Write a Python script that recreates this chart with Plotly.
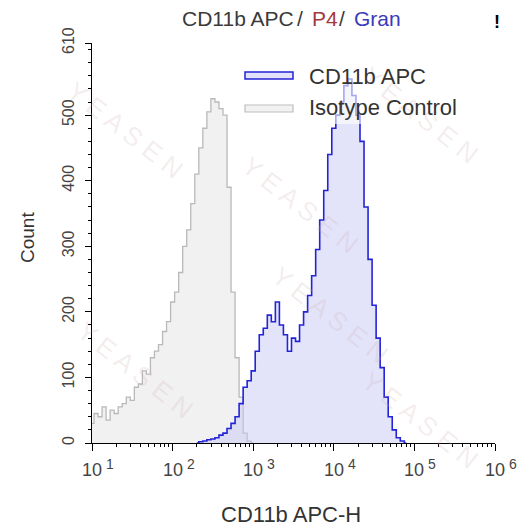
import plotly.graph_objects as go

# ---------------- data ----------------
GREY_START, BLUE_START, STEP = 1.0, 2.3, 0.05   # log10 bin positions
grey_counts = [30, 45, 40, 55, 35, 50, 45, 55, 60, 70,
               65, 85, 90, 110, 105, 130, 140, 150, 170, 185,
               215, 230, 260, 300, 325, 365, 410, 450, 480, 505,
               525, 520, 510, 500, 390, 230, 130, 70, 15, 3,
               0]
blue_counts = [0, 2, 3, 5, 6, 8, 12, 15, 22, 30,
               40, 60, 85, 95, 110, 140, 165, 175, 195, 185,
               215, 180, 165, 140, 160, 155, 180, 200, 225, 255,
               295, 340, 385, 440, 480, 500, 520, 545, 555, 530,
               500, 460, 360, 280, 210, 160, 115, 70, 40, 20,
               8, 3, 0]
x_tick_exps = [1, 2, 3, 4, 5, 6]
y_tick_vals = [0, 100, 200, 300, 400, 500, 610]
series_names = ["CD11b APC", "Isotype Control"]
title_parts = ["CD11b APC", "/", "P4", "/", "Gran"]

grey_x = [10 ** (GREY_START + i * STEP) for i in range(len(grey_counts))]
blue_x = [10 ** (BLUE_START + i * STEP) for i in range(len(blue_counts))]

FONT = "Liberation Sans, Arial, DejaVu Sans, sans-serif"
W, H = 518, 532
L, R, T, B = 92, 23, 43, 89
PW, PH = W - L - R, H - T - B


def px(x):
    return (x - L) / PW


def py(y):
    return (H - B - y) / PH


fig = go.Figure()
fig.add_trace(go.Scatter(
    x=grey_x, y=grey_counts, mode="lines", line_shape="hvh",
    line=dict(color="rgb(185,185,185)", width=1.3),
    fill="tozeroy", fillcolor="rgba(225,225,225,0.45)",
    name=series_names[1], showlegend=False))
fig.add_trace(go.Scatter(
    x=blue_x, y=blue_counts, mode="lines", line_shape="hvh",
    line=dict(color="rgb(35,35,215)", width=1.6),
    fill="tozeroy", fillcolor="rgba(200,200,245,0.5)",
    name=series_names[0], showlegend=False))

minor_x = [m * 10 ** e for e in x_tick_exps[:-1] for m in range(2, 10)]

fig.update_xaxes(
    type="log", range=[1, 6],
    tickvals=[10 ** e for e in x_tick_exps],
    showticklabels=False,
    ticks="outside", ticklen=7, tickcolor="black", tickwidth=1,
    minor=dict(tickvals=minor_x, ticks="outside", ticklen=3, tickcolor="black"),
    showline=True, linecolor="black", linewidth=1.2,
    showgrid=False, zeroline=False,
)
fig.update_yaxes(
    range=[0, 610],
    tickvals=y_tick_vals, ticktext=[str(v) for v in y_tick_vals],
    tickangle=-90,
    ticks="outside", ticklen=6, tickcolor="black", tickwidth=1,
    minor=dict(dtick=20, ticks="outside", ticklen=3, tickcolor="black"),
    showline=True, linecolor="black", linewidth=1.2,
    showgrid=False, zeroline=False,
    tickfont=dict(family=FONT, size=16, color="#444"),
    ticklabelstandoff=5,
)

annotations = []


def note(x, y, text, size, color, xanchor="center", angle=0, weight="normal"):
    annotations.append(dict(
        x=px(x), y=py(y), xref="paper", yref="paper", text=text,
        showarrow=False, xanchor=xanchor, yanchor="middle", textangle=angle,
        font=dict(family=FONT, size=size, color=color, weight=weight)))


# watermark
for (cx, cy) in [(125, 130), (300, 205), (420, 115), (135, 370), (330, 315), (420, 420)]:
    note(cx, cy, "Y E A S E N", 26, "rgba(205,175,175,0.22)", angle=38)

# x tick labels: "10" centred on the tick, exponent raised to its right
for e in x_tick_exps:
    annotations.append(dict(
        x=e, xref="x", y=py(470), yref="paper", text="10", showarrow=False,
        xanchor="center", yanchor="middle",
        font=dict(family=FONT, size=18, color="#444")))
    annotations.append(dict(
        x=e, xref="x", y=py(464), yref="paper", text=str(e), showarrow=False,
        xanchor="left", yanchor="middle", xshift=12,
        font=dict(family=FONT, size=14, color="#444")))

# title pieces
note(180, 19, title_parts[0], 21, "#3a3a3a", xanchor="left")
note(300, 19, title_parts[1], 21, "#3a3a3a")
note(310, 19, title_parts[2], 21, "#a33a3a", xanchor="left")
note(342, 19, title_parts[3], 21, "#3a3a3a")
note(352, 19, title_parts[4], 21, "#3a3ab8", xanchor="left")
note(497, 22, "!", 18, "black", weight="bold")
# axis titles
note(27, 238, "Count", 19, "#333", angle=-90)
note(291, 514, "CD11b APC-H", 22, "#333")
# legend texts
note(307, 77, series_names[0], 22, "#333", xanchor="left")
note(307, 108, series_names[1], 22, "#333", xanchor="left")

shapes = [
    dict(type="rect", xref="paper", yref="paper", layer="above",
         x0=px(238), x1=px(470), y0=py(62), y1=py(124),
         fillcolor="rgba(255,255,255,0.6)", line=dict(width=0)),
    dict(type="rect", xref="paper", yref="paper", layer="above",
         x0=px(245), x1=px(293), y0=py(72), y1=py(79),
         fillcolor="rgb(226,226,250)", line=dict(color="rgb(35,35,215)", width=1.5)),
    dict(type="rect", xref="paper", yref="paper", layer="above",
         x0=px(245), x1=px(293), y0=py(105), y1=py(112),
         fillcolor="rgb(242,242,242)", line=dict(color="rgb(190,190,190)", width=1.2)),
]

fig.update_layout(
    width=W, height=H,
    margin=dict(l=L, r=R, t=T, b=B),
    paper_bgcolor="white", plot_bgcolor="white",
    annotations=annotations, shapes=shapes,
    font=dict(family=FONT),
)

fig.write_html("out.html", config={"displayModeBar": False},
               post_script="document.body.style.margin='0';")
